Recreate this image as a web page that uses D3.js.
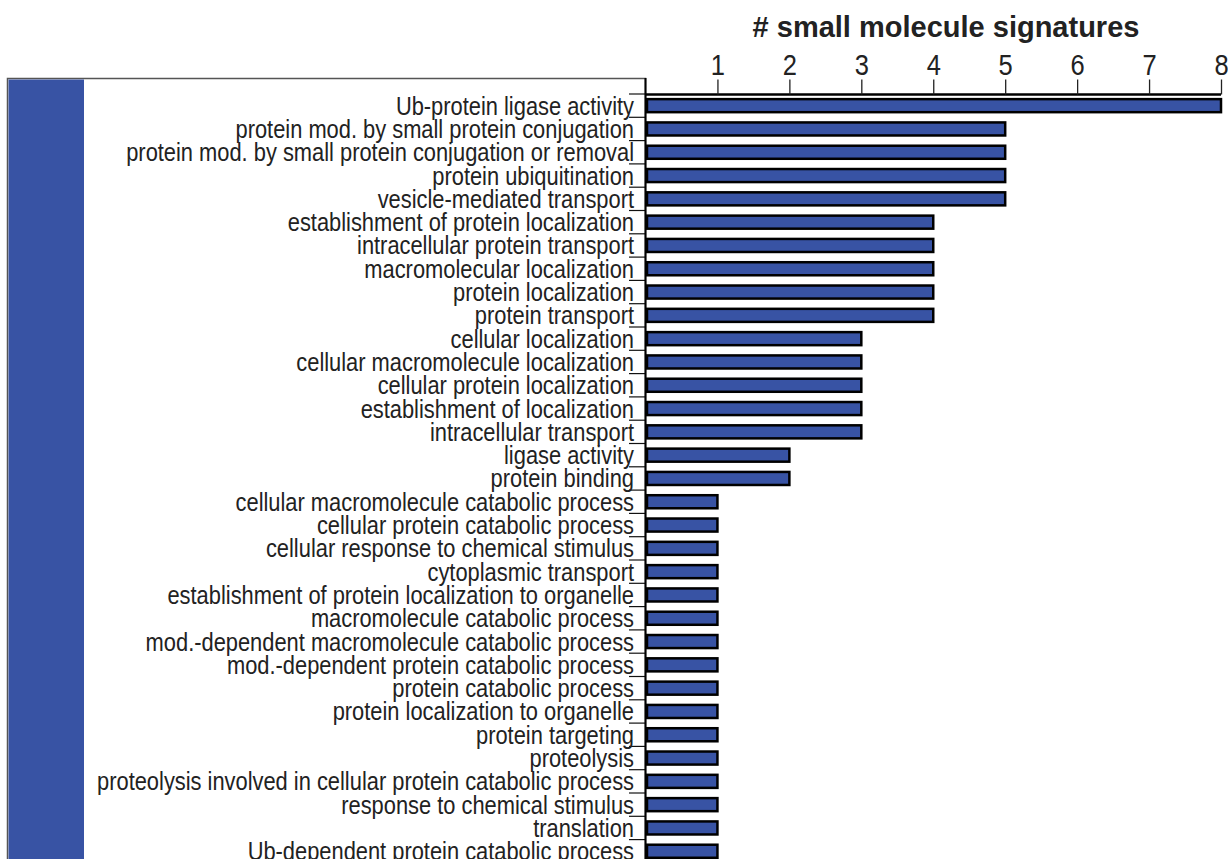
<!DOCTYPE html>
<html>
<head>
<meta charset="utf-8">
<script src="https://cdn.jsdelivr.net/npm/d3@7"></script>
<style>
  body { margin: 0; background: #fff; }
  svg { display: block; }
  .lab { font-family: "Liberation Sans", Arial, sans-serif; }
</style>
</head>
<body>
<svg id="chart" width="1228" height="859"></svg>
<script>
const categories = [
  'Ub-protein ligase activity',
  'protein mod. by small protein conjugation',
  'protein mod. by small protein conjugation or removal',
  'protein ubiquitination',
  'vesicle-mediated transport',
  'establishment of protein localization',
  'intracellular protein transport',
  'macromolecular localization',
  'protein localization',
  'protein transport',
  'cellular localization',
  'cellular macromolecule localization',
  'cellular protein localization',
  'establishment of localization',
  'intracellular transport',
  'ligase activity',
  'protein binding',
  'cellular macromolecule catabolic process',
  'cellular protein catabolic process',
  'cellular response to chemical stimulus',
  'cytoplasmic transport',
  'establishment of protein localization to organelle',
  'macromolecule catabolic process',
  'mod.-dependent macromolecule catabolic process',
  'mod.-dependent protein catabolic process',
  'protein catabolic process',
  'protein localization to organelle',
  'protein targeting',
  'proteolysis',
  'proteolysis involved in cellular protein catabolic process',
  'response to chemical stimulus',
  'translation',
  'Ub-dependent protein catabolic process'
]
const counts = [8, 5, 5, 5, 5, 4, 4, 4, 4, 4, 3, 3, 3, 3, 3, 2, 2,
  1, 1, 1, 1, 1, 1, 1, 1, 1, 1, 1, 1, 1, 1, 1, 1]
const xTicks = [1, 2, 3, 4, 5, 6, 7, 8]
const title = '# small molecule signatures'

const blue = '#3853a4'
const svg = d3.select('svg#chart')

const x = d3.scaleLinear().domain([0, 8]).range([645.5, 1221])
const y = d3.scaleBand().domain(categories).range([94, 94 + 23.3 * categories.length]).paddingInner(0.44).paddingOuter(0.22)
const step = y.step()

// left panel
svg.append('rect')
  .attr('x', 7.5).attr('y', 78.5)
  .attr('width', 638).attr('height', 900)
  .attr('fill', '#fff').attr('stroke', '#555').attr('stroke-width', 1.5)
svg.append('rect')
  .attr('x', 8.5).attr('y', 79.5)
  .attr('width', 75.5).attr('height', 900)
  .attr('fill', blue)

// category labels and band ticks
const rows = svg.append('g')
rows.selectAll('line.band')
  .data(categories)
  .enter()
    .append('line')
      .attr('class', 'band')
      .attr('x1', 629).attr('x2', 645.5)
      .attr('y1', d => y(d) - y.paddingInner() * step / 2)
      .attr('y2', d => y(d) - y.paddingInner() * step / 2)
      .attr('stroke', '#111').attr('stroke-width', 1.2)

rows.selectAll('g.row')
  .data(categories)
  .enter()
    .append('g')
      .attr('class', 'row')
      .attr('transform', d => `translate(634, ${y(d) + y.bandwidth() / 2}) scale(0.875, 1)`)
    .append('text')
      .attr('class', 'lab')
      .attr('dy', '0.36em')
      .attr('text-anchor', 'end')
      .attr('font-size', 25)
      .attr('fill', '#222')
      .text(d => d)

// bars
svg.append('g').selectAll('rect')
  .data(categories)
  .enter()
    .append('rect')
      .attr('x', x(0) + 1.5)
      .attr('y', d => y(d))
      .attr('width', (d, i) => x(counts[i]) - x(0) - 1.5)
      .attr('height', y.bandwidth())
      .attr('fill', blue)
      .attr('stroke', '#000')
      .attr('stroke-width', 2.5)

// vertical axis line
svg.append('line')
  .attr('x1', 645.5).attr('x2', 645.5)
  .attr('y1', 78).attr('y2', 859)
  .attr('stroke', '#000').attr('stroke-width', 2)

// top axis
const axis = svg.append('g')
  .attr('transform', 'translate(0, 94.5)')
  .call(d3.axisTop(x).tickValues(xTicks).tickSize(15).tickPadding(0).tickFormat(d3.format('d')))
axis.select('.domain')
  .attr('d', `M${x(0)},0H${x(8)}`)
  .attr('stroke', '#000').attr('stroke-width', 2.5)
axis.selectAll('.tick line').attr('stroke', '#222').attr('stroke-width', 1.3)
axis.selectAll('.tick text')
  .attr('class', 'lab')
  .attr('font-size', 30)
  .attr('fill', '#222')
  .attr('transform', 'translate(0,-20) scale(0.85,1)')
  .attr('y', 0)

svg.append('text')
  .attr('x', 946).attr('y', 37)
  .attr('text-anchor', 'middle')
  .attr('font-family', 'Liberation Sans, Arial, sans-serif')
  .attr('font-weight', 'bold')
  .attr('font-size', 29)
  .attr('fill', '#222')
  .text(title)
</script>
</body>
</html>
